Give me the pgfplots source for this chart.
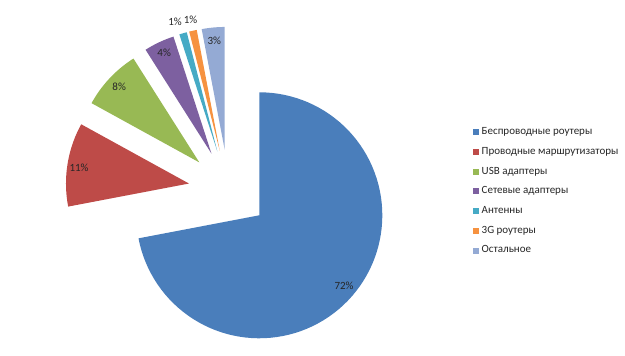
\documentclass[border=0pt]{standalone}
\usepackage{pgfplots}
\pgfplotsset{compat=1.18}
\usepackage{fontspec}
\setmainfont{Carlito}
\definecolor{cA}{HTML}{4A7EBB}
\definecolor{cB}{HTML}{BE4B48}
\definecolor{cC}{HTML}{98B954}
\definecolor{cD}{HTML}{7D60A0}
\definecolor{cE}{HTML}{46AAC5}
\definecolor{cF}{HTML}{F69240}
\definecolor{cG}{HTML}{94AAD4}
\definecolor{txt}{HTML}{262626}
\def\cx{228.5}
\def\cy{166.2}
\def\rr{123}
\def\dd{40}
% #1 cumulative start (%), #2 value (%), #3 colour, #4 legend text, #5 label radius, #6 label angle shift
\newcommand\slice[6]{%
  \addplot[fill=#3, draw=none, domain={90-3.6*(#1+#2)}:{90-3.6*(#1)}, samples=90, variable=\t]
    ({\cx+\dd*cos(90-3.6*(#1+#2/2))+\rr*cos(\t)}, {\cy+\dd*sin(90-3.6*(#1+#2/2))+\rr*sin(\t)})
    -- (axis cs:{\cx+\dd*cos(90-3.6*(#1+#2/2))},{\cy+\dd*sin(90-3.6*(#1+#2/2))}) -- cycle;
  \addlegendentry{#4}
  \node[font=\fontsize{11}{13}\selectfont, text=txt, inner sep=0pt]
    at (axis cs:{\cx+\dd*cos(90-3.6*(#1+#2/2))+#5*cos(90-3.6*(#1+#2/2)+#6)},{\cy+\dd*sin(90-3.6*(#1+#2/2))+#5*sin(90-3.6*(#1+#2/2)+#6)}) {#2\%};
}
\begin{document}
\begin{tikzpicture}
\begin{axis}[
  width=625pt, height=356pt, scale only axis,
  xmin=0, xmax=625, ymin=0, ymax=356,
  hide axis, clip=false,
  legend image code/.code={\fill[#1, draw=none] (0pt,-3pt) rectangle (6pt,3pt);},
  legend cell align=left,
  legend style={draw=none, fill=none, at={(axis cs:473,164.5)}, anchor=west,
    inner sep=0pt, row sep=10.3pt,
    font=\fontsize{11}{13}\selectfont, text=txt,
    nodes={text height=7pt, text depth=2.4pt, inner sep=0pt},
    /tikz/every odd column/.append style={column sep=2.5pt}},
]
\path (axis cs:0,0) rectangle (axis cs:625,356);
\slice{0}{72}{cA}{Беспроводные роутеры}{110}{0}
\slice{72}{11}{cB}{Проводные маршрутизаторы}{111}{1}
\slice{83}{8}{cC}{USB адаптеры}{110}{0}
\slice{91}{4}{cD}{Сетевые адаптеры}{111}{0}
\slice{95}{1}{cE}{Антенны}{136}{1.9}
\slice{96}{1}{cF}{3G роутеры}{134}{0}
\slice{97}{3}{cG}{Остальное}{110}{0}
\end{axis}
\end{tikzpicture}
\end{document}
